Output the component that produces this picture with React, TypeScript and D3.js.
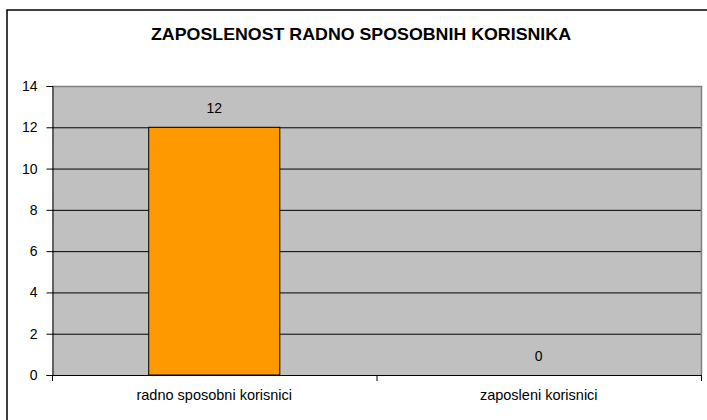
import React, { useEffect, useRef } from 'react';
import * as d3 from 'd3';

const categories = ['radno sposobni korisnici', 'zaposleni korisnici'];
const values = [12, 0];
const yTicks = [0, 2, 4, 6, 8, 10, 12, 14];
const title = 'ZAPOSLENOST RADNO SPOSOBNIH KORISNIKA';

const width = 707;
const height = 420;

const App: React.FC = () => {
  const svgRef = useRef<SVGSVGElement | null>(null);

  useEffect(() => {
    const svg = d3.select(svgRef.current);
    svg.selectAll('*').remove();

    const plot = { left: 52, right: 701, top: 86, bottom: 375 };
    const font = '"Liberation Sans", Arial, sans-serif';

    const x = d3.scaleBand()
      .domain(categories)
      .range([plot.left, plot.right])
      .padding(0);

    const y = d3.scaleLinear()
      .domain([0, 14])
      .range([plot.bottom, plot.top]);

    // outer frame
    svg.append('rect')
      .attr('x', 7).attr('y', 10)
      .attr('width', 760).attr('height', 460)
      .attr('fill', 'white')
      .attr('stroke', '#000')
      .attr('stroke-width', 1.5);

    // title
    svg.append('text')
      .attr('x', 361).attr('y', 40)
      .attr('text-anchor', 'middle')
      .attr('font-family', font)
      .attr('font-size', 17)
      .attr('font-weight', 'bold')
      .attr('textLength', 420)
      .attr('lengthAdjust', 'spacingAndGlyphs')
      .text(title);

    // plot background
    svg.append('rect')
      .attr('x', plot.left).attr('y', plot.top)
      .attr('width', plot.right - plot.left)
      .attr('height', plot.bottom - plot.top)
      .attr('fill', '#C0C0C0');

    // gridlines
    svg.append('g')
      .selectAll('line')
      .data(yTicks.filter(t => t > 0 && t < 14))
      .join('line')
      .attr('x1', plot.left).attr('x2', plot.right)
      .attr('y1', d => y(d) + 0.5).attr('y2', d => y(d) + 0.5)
      .attr('stroke', '#000')
      .attr('stroke-width', 1);

    // top and right border
    svg.append('path')
      .attr('d', `M${plot.left},${plot.top + 0.5}H${plot.right + 0.5}V${plot.bottom}`)
      .attr('fill', 'none')
      .attr('stroke', '#808080')
      .attr('stroke-width', 1.5);

    // bars
    const barW = x.bandwidth() * 0.404;
    svg.append('g')
      .selectAll('rect')
      .data(values)
      .join('rect')
      .attr('x', (d, i) => x(categories[i])! + (x.bandwidth() - barW) / 2)
      .attr('y', d => y(d))
      .attr('width', barW)
      .attr('height', d => y(0) - y(d))
      .attr('fill', '#FF9900')
      .attr('stroke', '#000')
      .attr('stroke-width', 1);

    // value labels
    svg.append('g')
      .selectAll('text')
      .data(values)
      .join('text')
      .attr('x', (d, i) => x(categories[i])! + x.bandwidth() / 2)
      .attr('y', d => y(d) - 14)
      .attr('text-anchor', 'middle')
      .attr('font-family', font)
      .attr('font-size', 14)
      .text(d => d);

    // y axis
    const yAxis = svg.append('g')
      .attr('transform', `translate(${plot.left + 0.5},0)`)
      .call(d3.axisLeft(y).tickValues(yTicks).tickSize(6).tickPadding(9));
    yAxis.select('.domain').attr('stroke', '#000');
    yAxis.selectAll('line').attr('stroke', '#000');
    yAxis.selectAll('text')
      .attr('font-family', font)
      .attr('font-size', 14)
      .attr('fill', '#000');

    // x axis
    svg.append('line')
      .attr('x1', plot.left).attr('x2', plot.right + 1)
      .attr('y1', plot.bottom + 0.5).attr('y2', plot.bottom + 0.5)
      .attr('stroke', '#000');
    const bounds = [...categories.map(c => x(c)!), plot.right];
    svg.append('g')
      .selectAll('line')
      .data(bounds)
      .join('line')
      .attr('x1', d => d + 0.5).attr('x2', d => d + 0.5)
      .attr('y1', plot.bottom).attr('y2', plot.bottom + 6)
      .attr('stroke', '#000');

    svg.append('g')
      .selectAll('text')
      .data(categories)
      .join('text')
      .attr('x', d => x(d)! + x.bandwidth() / 2)
      .attr('y', plot.bottom + 25)
      .attr('text-anchor', 'middle')
      .attr('font-family', font)
      .attr('font-size', 14.5)
      .text(d => d);
  }, []);

  return (
    <svg
      ref={svgRef}
      width={width}
      height={height}
      style={{ position: 'fixed', left: 0, top: 0, display: 'block', background: 'white' }}
    />
  );
};

export default App;
